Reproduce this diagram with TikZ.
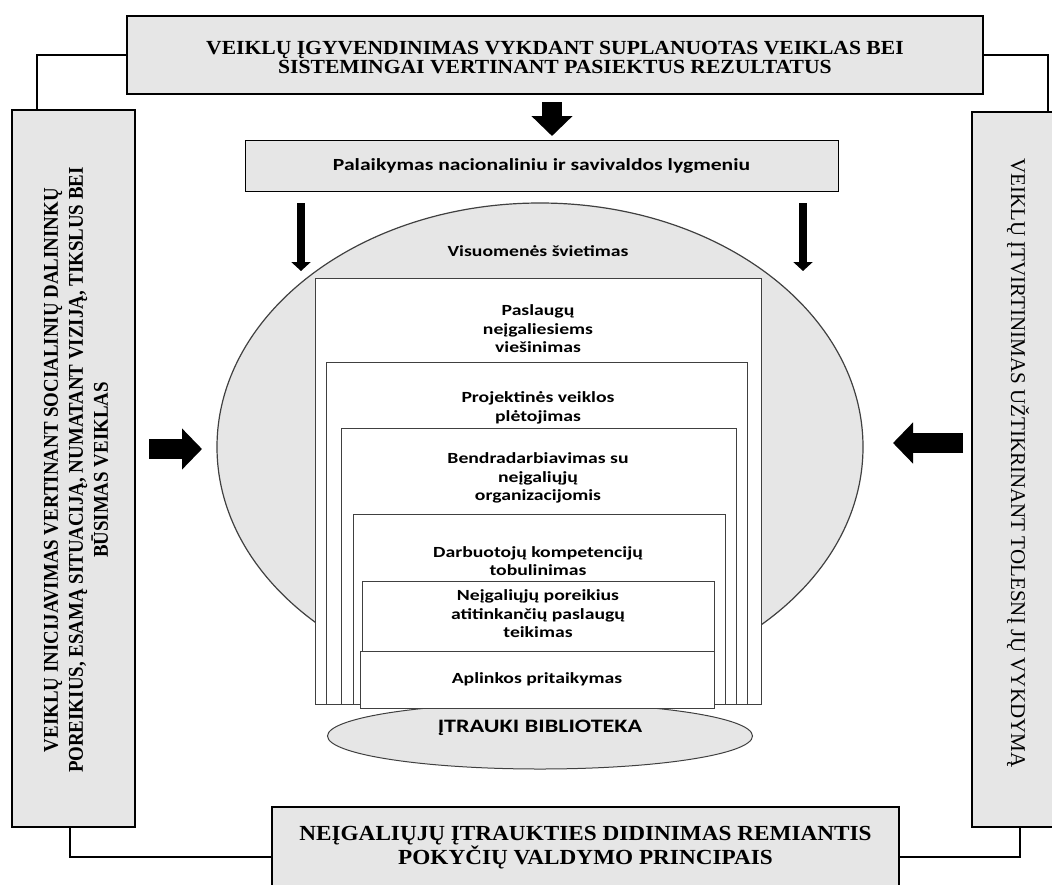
\documentclass[tikz,border=0pt]{standalone}
\usepackage{fontspec}
\setmainfont{Liberation Serif}
\newfontfamily\calfont[FakeStretch=1.27]{Carlito}
\newfontfamily\widetimes[FakeStretch=1.08]{Liberation Serif}
\newfontfamily\narrowtimes[FakeStretch=0.9]{Liberation Serif}
\usetikzlibrary{arrows.meta,shapes.geometric}
\definecolor{boxgray}{HTML}{E6E6E6}
\begin{document}
\begin{tikzpicture}[x=1pt, y=-1pt,
	outerbox/.style={draw, line width=1.4pt, fill=boxgray, inner sep=0pt},
	layer/.style={draw=black!75, line width=1pt, fill=white, inner sep=0pt},
	layertext/.style={font=\calfont\bfseries\fontsize{15.5}{18.5}\selectfont, align=center, inner sep=0pt},
	capstext/.style={font=\widetimes\bfseries\fontsize{20}{19}\selectfont, align=center, inner sep=0pt},
	frame/.style={line width=1.4pt},
	bigarrow/.style={line width=20pt, -{Triangle[width=40pt, length=20pt]}},
	thinarrow/.style={line width=8pt, -{Triangle[width=19pt, length=9pt]}}]
	\useasboundingbox (0,0) rectangle (1052,884);

	\node[outerbox, minimum width=856, minimum height=78] (plan) at (555,55) {};
	\node[capstext] (plantext) at (555,58) {VEIKLŲ ĮGYVENDINIMAS VYKDANT SUPLANUOTAS VEIKLAS BEI\\SISTEMINGAI VERTINANT PASIEKTUS REZULTATUS};
	\node[outerbox, minimum width=123, minimum height=717] (init) at (73.5,468.5) {};
	\node[font=\narrowtimes\bfseries\fontsize{21}{25}\selectfont, align=center, rotate=90, inner sep=0pt] (inittext) at (76,470) {VEIKLŲ INICIJAVIMAS VERTINANT SOCIALINIŲ DALININKŲ\\POREIKIUS, ESAMĄ SITUACIJĄ, NUMATANT VIZIJĄ, TIKSLUS BEI\\BŪSIMAS VEIKLAS};
	\node[outerbox, minimum width=96, minimum height=715] (keep) at (1020,469.5) {};
	\node[font=\fontsize{21}{24}\selectfont, rotate=-90, inner sep=0pt] (keeptext) at (1018,463) {VEIKLŲ ĮTVIRTINIMAS UŽTIKRINANT TOLESNĮ JŲ VYKDYMĄ};
	\node[outerbox, minimum width=627, minimum height=100] (goal) at (585.5,857) {};
	\node[capstext, font=\widetimes\bfseries\fontsize{21.5}{21}\selectfont] (goaltext) at (585.5,848) {NEĮGALIŲJŲ ĮTRAUKTIES DIDINIMAS REMIANTIS\\POKYČIŲ VALDYMO PRINCIPAIS};

	\draw[frame] (plan.west) -| ([xshift=-36.5pt]init.north);
	\draw[frame] (plan.east) -| ([xshift=28pt]keep.north);
	\draw[frame] ([xshift=-3.5pt]init.south) |- (goal.west);
	\draw[frame] (keep.south) |- (goal.east);

	\node[outerbox, line width=1pt, minimum width=593, minimum height=51, font=\calfont\bfseries\fontsize{17}{20}\selectfont] (support) at (541.5,165.5) {Palaikymas nacionaliniu ir savivaldos lygmeniu};

	\node[ellipse, draw=black!75, line width=1.2pt, fill=boxgray, minimum width=646, minimum height=488, inner sep=0pt] (circ) at (540,447) {};
	\node[ellipse, draw=black!75, line width=1pt, fill=boxgray, minimum width=425, minimum height=66, inner sep=0pt] (lib) at (540,736) {};
	\node[layer, minimum width=446, minimum height=426] (l1) at (538,491) {};
	\node[layer, minimum width=421, minimum height=342] (l2) at (536.5,533) {};
	\node[layer, minimum width=395, minimum height=276] (l3) at (538.5,566) {};
	\node[layer, minimum width=372, minimum height=190] (l4) at (539,609) {};
	\node[layer, minimum width=352, minimum height=123] (l5) at (538,642.5) {};
	\node[layer, minimum width=354, minimum height=57] (l6) at (537,679.5) {};

	\node[layertext] (vis) at (538,251) {Visuomenės švietimas};
	\node[layertext] (t1) at (538,329) {Paslaugų\\neįgaliesiems\\viešinimas};
	\node[layertext] (t2) at (538,408) {Projektinės veiklos\\plėtojimas};
	\node[layertext] (t3) at (538,478) {Bendradarbiavimas su\\neįgaliųjų\\organizacijomis};
	\node[layertext] (t4) at (538,561) {Darbuotojų kompetencijų\\tobulinimas};
	\node[layertext] (t5) at (538,614) {Neįgaliųjų poreikius\\atitinkančių paslaugų\\teikimas};
	\node[layertext] (t6) at (537,679) {Aplinkos pritaikymas};
	\node[font=\calfont\bfseries\fontsize{19}{22}\selectfont, inner sep=0pt] (libtext) at (540,728) {ĮTRAUKI BIBLIOTEKA};

	\coordinate (downstart) at (552,102);
	\coordinate (leftstart) at (149,449);
	\coordinate (rightstart) at (963,443);
	\coordinate (thinL) at (301,203);
	\coordinate (thinR) at (803,203);
	\draw[bigarrow] (downstart) -- ++(0,34);
	\draw[bigarrow] (leftstart) -- ++(53,0);
	\draw[bigarrow] (rightstart) -- ++(-70,0);
	\draw[thinarrow] (thinL) -- ++(0,68);
	\draw[thinarrow] (thinR) -- ++(0,68);
\end{tikzpicture}
\end{document}
